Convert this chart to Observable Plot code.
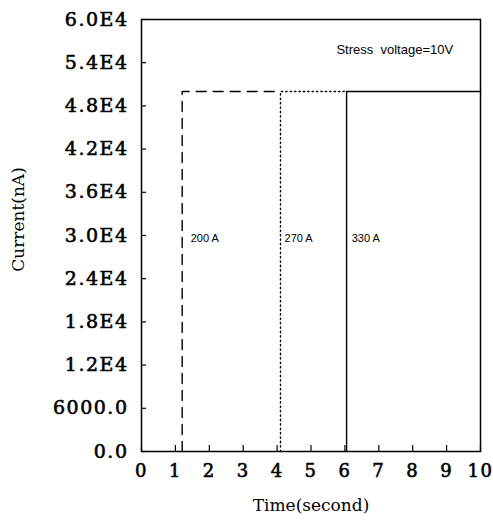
<!DOCTYPE html>
<html><head><meta charset="utf-8">
<script src="https://cdn.jsdelivr.net/npm/d3@7"></script>
<script src="https://cdn.jsdelivr.net/npm/@observablehq/plot@0.6"></script>
<style>
body{margin:0;background:#fff;}
#chart svg [aria-label="y-axis tick label"],
#chart svg [aria-label="x-axis tick label"]{letter-spacing:1.5px;stroke:#000;stroke-width:0.6px;}
</style></head><body><div id="chart"></div>
<script>
const seriesNames = ["200 A", "270 A", "330 A"];
const time200 = [1.2, 1.2, 4.1];
const current200 = [0, 50000, 50000];
const time270 = [4.1, 4.1, 6.05];
const current270 = [0, 50000, 50000];
const time330 = [6.05, 6.05, 10];
const current330 = [0, 50000, 50000];
const labelTimes = [1.45, 4.22, 6.2];
const labelCurrents = [29600, 29600, 29600];
const xTicks = [0, 1, 2, 3, 4, 5, 6, 7, 8, 9, 10];
const yTicks = [0, 6000, 12000, 18000, 24000, 30000, 36000, 42000, 48000, 54000, 60000];
const yTickLabels = ["0.0", "6000.0", "1.2E4", "1.8E4", "2.4E4", "3.0E4", "3.6E4", "4.2E4", "4.8E4", "5.4E4", "6.0E4"];
const annotationText = ["Stress  voltage=10V"];
const annotationTime = [5.75];
const annotationCurrent = [55800];
const xTitle = "Time(second)";
const yTitle = "Current(nA)";

const W = 493, H = 526, mL = 141, mR = 13, mT = 19, mB = 75;
const innerW = W - mL - mR, innerH = H - mT - mB;

const toRows = (ts, cs) => ts.map((t, i) => ({t, c: cs[i]}));
const labels = seriesNames.map((s, i) => ({s, t: labelTimes[i], c: labelCurrents[i]}));
const notes = annotationText.map((s, i) => ({s, t: annotationTime[i], c: annotationCurrent[i]}));
const serif = "DejaVu Serif";

const chart = Plot.plot({
  width: W, height: H,
  marginLeft: mL, marginRight: mR, marginTop: mT, marginBottom: mB,
  style: {background: "#fff", color: "#000", fontFamily: serif},
  x: {domain: [0, 10]},
  y: {domain: [0, 60000]},
  marks: [
    Plot.frame({stroke: "#000", strokeWidth: 1.5}),
    Plot.tickX(xTicks, {x: d => d, insetTop: innerH - 6, stroke: "#000", strokeWidth: 1.2}),
    Plot.tickY(yTicks, {y: d => d, insetRight: innerW - 5, stroke: "#000", strokeWidth: 1.2}),
    Plot.axisX({ticks: xTicks, tickSize: 0, tickPadding: 13, tickFormat: d => String(d), fontSize: 18, fontFamily: serif, label: null}),
    Plot.axisY({ticks: yTicks, tickSize: 0, tickPadding: 13, tickFormat: d => yTickLabels[yTicks.indexOf(d)], fontSize: 19, fontFamily: serif, label: null}),
    Plot.line(toRows(time200, current200), {x: "t", y: "c", stroke: "#000", strokeWidth: 1.4, strokeDasharray: "10,7"}),
    Plot.line(toRows(time270, current270), {x: "t", y: "c", stroke: "#000", strokeWidth: 1.4, strokeDasharray: "1.4,3"}),
    Plot.line(toRows(time330, current330), {x: "t", y: "c", stroke: "#000", strokeWidth: 1.4}),
    Plot.text(labels, {x: "t", y: "c", text: "s", textAnchor: "start", fontSize: 11, fontFamily: "Liberation Sans Narrow, Liberation Sans, sans-serif", fill: "#000"}),
    Plot.text(notes, {x: "t", y: "c", text: "s", textAnchor: "start", fontSize: 13, fontFamily: "Liberation Sans, sans-serif", fill: "#000"}),
    Plot.text([xTitle], {frameAnchor: "bottom", dy: 59, text: d => d, fontSize: 17, fontFamily: serif, fill: "#000"}),
    Plot.text([yTitle], {frameAnchor: "left", dx: -123, dy: -16, rotate: -90, textAnchor: "middle", text: d => d, fontSize: 17, fontFamily: serif, fill: "#000"})
  ]
});
document.getElementById("chart").appendChild(chart);
</script></body></html>
